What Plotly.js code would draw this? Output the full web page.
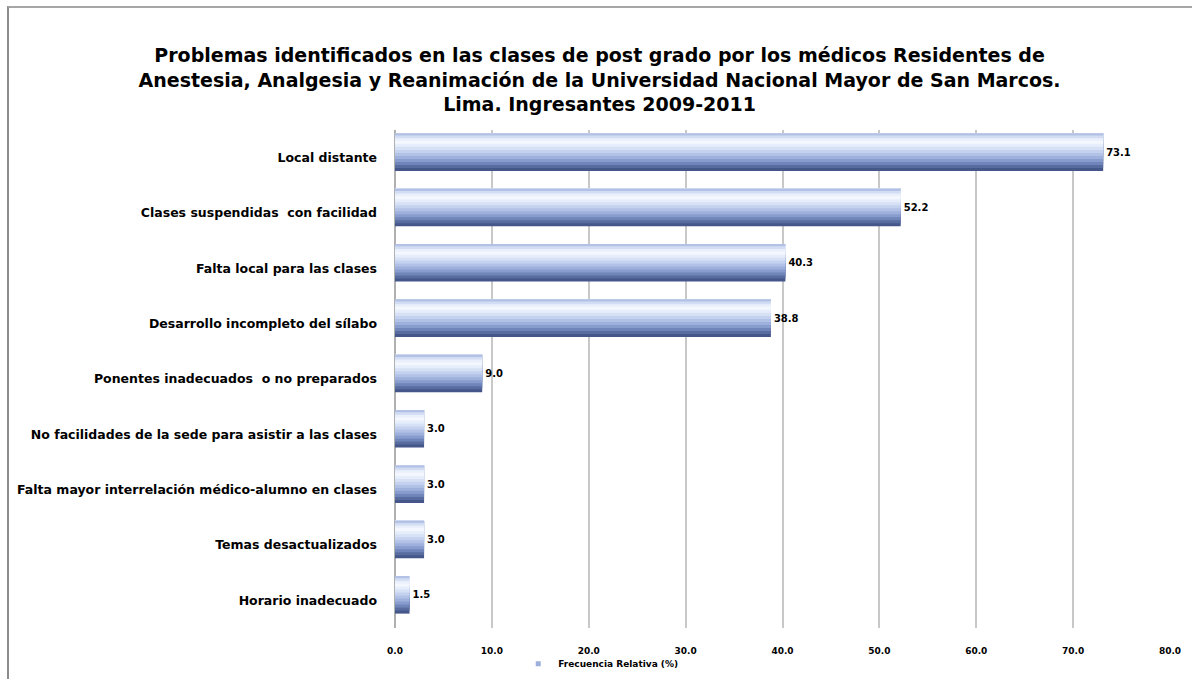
<!DOCTYPE html>
<html>
<head>
<meta charset="utf-8">
<script src="https://cdn.plot.ly/plotly-3.0.1.min.js"></script>
<style>
  html, body { margin: 0; padding: 0; background: #ffffff; }
  #frame { position: absolute; left: 7px; top: 6px; width: 1185px; height: 673px;
           border-top: 2px solid #a6a6a6; border-left: 2px solid #8c8c8c; box-sizing: border-box; }
  #chart { position: absolute; left: 0; top: 0; width: 1192px; height: 679px; }
</style>
</head>
<body>
<div id="frame"></div>
<div id="chart"></div>
<script>
// ---- Data ----
const categories = [
  "Local distante",
  "Clases suspendidas  con facilidad",
  "Falta local para las clases",
  "Desarrollo incompleto del sílabo",
  "Ponentes inadecuados  o no preparados",
  "No facilidades de la sede para asistir a las clases",
  "Falta mayor interrelación médico-alumno en clases",
  "Temas desactualizados",
  "Horario inadecuado"
];
const values = [73.1, 52.2, 40.3, 38.8, 9.0, 3.0, 3.0, 3.0, 1.5];
const seriesName = "Frecuencia Relativa (%)";
const xTicks = [0, 10, 20, 30, 40, 50, 60, 70, 80];
const titleText = "Problemas identificados en las clases de post grado por los médicos Residentes de<br>" +
                  "Anestesia, Analgesia y Reanimación de la Universidad Nacional Mayor de San Marcos.<br>" +
                  "Lima. Ingresantes 2009-2011";

// ---- Cylinder-like shading bands (style only): fraction from bar top, colour ----
const barTop = -0.44;   // offset of bar top (category units, reversed axis)
const barW = 0.68;      // bar thickness
const bands = [
  [1.00, "#44568a"],
  [0.92, "#586c9f"],
  [0.84, "#7085b9"],
  [0.76, "#889cce"],
  [0.68, "#9eb0dc"],
  [0.60, "#b2c2e6"],
  [0.52, "#c5d2ef"],
  [0.44, "#d7e1f6"],
  [0.36, "#e7eefb"],
  [0.28, "#f4f7fe"],
  [0.20, "#eaf0fb"],
  [0.13, "#d2ddf3"],
  [0.06, "#b2c1e5"]
];

const traces = bands.map((b, i) => {
  const t = {
    type: "bar",
    orientation: "h",
    x: values,
    y: categories,
    name: seriesName,
    showlegend: false,
    offset: barTop,
    width: barW * b[0],
    marker: { color: b[1], line: { width: 0 } },
    hoverinfo: "skip"
  };
  if (i === 0) {
    t.text = values.map(v => v.toFixed(1));
    t.textposition = "outside";
    t.textangle = 0;
    t.constraintext = "none";
    t.cliponaxis = false;
    t.outsidetextfont = { family: "DejaVu Sans, Liberation Sans, sans-serif", size: 10, color: "#000000", weight: "bold" };
  }
  return t;
});

// legend entry only
traces.push({
  type: "scatter",
  mode: "markers",
  x: [null],
  y: [null],
  name: seriesName,
  marker: { symbol: "square", size: 5, color: "#9db0dc" },
  showlegend: true,
  hoverinfo: "skip"
});

const layout = {
  width: 1192,
  height: 679,
  paper_bgcolor: "rgba(0,0,0,0)",
  plot_bgcolor: "rgba(0,0,0,0)",
  margin: { l: 395, r: 22, t: 130, b: 51, autoexpand: false },
  barmode: "overlay",
  title: {
    text: titleText,
    font: { family: "DejaVu Sans, Open Sans, sans-serif", size: 19, color: "#000000", weight: "bold" },
    xref: "container", x: 0.503, xanchor: "center",
    yref: "container", y: 1 - 62 / 679, yanchor: "middle",
    automargin: false
  },
  xaxis: {
    range: [0, 80],
    tickvals: xTicks,
    ticktext: xTicks.map(v => v.toFixed(1)),
    showgrid: true,
    gridcolor: "#c8c8c8",
    gridwidth: 2,
    zeroline: true,
    zerolinecolor: "#b0b0b0",
    zerolinewidth: 2,
    showline: false,
    ticks: "",
    ticklabelstandoff: 16,
    automargin: false,
    tickfont: { family: "DejaVu Sans, Liberation Sans, sans-serif", size: 9, color: "#000000", weight: "bold" },
    fixedrange: true
  },
  yaxis: {
    type: "category",
    autorange: "reversed",
    showgrid: false,
    zeroline: false,
    showline: false,
    ticks: "",
    ticklabelstandoff: 17,
    automargin: false,
    tickfont: { family: "DejaVu Sans, Liberation Sans, sans-serif", size: 12.5, color: "#000000", weight: "bold" },
    fixedrange: true
  },
  legend: {
    orientation: "h",
    x: 0.159, xanchor: "left",
    y: -0.072, yanchor: "middle",
    font: { family: "DejaVu Sans, Liberation Sans, sans-serif", size: 9, color: "#000000", weight: "bold" },
    itemwidth: 30,
    bgcolor: "rgba(0,0,0,0)"
  },
  showlegend: true
};

Plotly.newPlot("chart", traces, layout, { displayModeBar: false, staticPlot: true });
</script>
</body>
</html>
